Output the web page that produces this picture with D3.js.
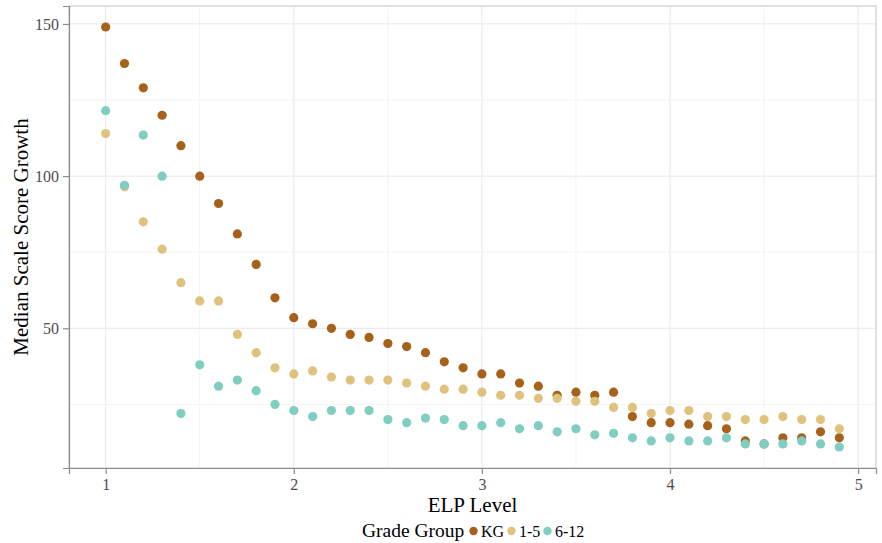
<!DOCTYPE html>
<html><head><meta charset="utf-8">
<script src="https://cdn.jsdelivr.net/npm/d3@7"></script>
<style>body{margin:0;background:#fff}svg{display:block}</style>
</head><body>
<script>
const elpLevels = [1.0,1.1,1.2,1.3,1.4,1.5,1.6,1.7,1.8,1.9,2.0,2.1,2.2,2.3,2.4,2.5,2.6,2.7,2.8,2.9,3.0,3.1,3.2,3.3,3.4,3.5,3.6,3.7,3.8,3.9,4.0,4.1,4.2,4.3,4.4,4.5,4.6,4.7,4.8,4.9];
const kgValues = [149,137,129,120,110,100,91,81,71,60,53.5,51.5,50,48,47,45,44,42,39,37,35,35,32,31,28,29,28,29,21,19,19,18.5,18,17,13,12,14,14,16,14];
const g15Values = [114,96.5,85,76,65,59,59,48,42,37,35,36,34,33,33,33,32,31,30,30,29,28,28,27,27,26,26,24,24,22,23,23,21,21,20,20,21,20,20,17];
const g612Values = [121.5,97,113.5,100,22,38,31,33,29.5,25,23,21,23,23,23,20,19,20.5,20,18,18,19,17,18,16,17,15,15.5,14,13,14,13,13,14,12,12,12,13,12,11];
const groups = ["KG","1-5","6-12"];
const groupColors = ["#a6611a","#dfc27d","#80cdc1"];
const xTicks = [1,2,3,4,5];
const yTicks = [50,100,150];
const xMinor = [1.5,2.5,3.5,4.5];
const yMinor = [25,75,125];

const W=882,H=543;
const L=69,R=876,T=6,B=468;
const svg=d3.select("body").append("svg").attr("width",W).attr("height",H);
const font="'Liberation Serif','Times New Roman',serif";

const allVals=kgValues.concat(g15Values,g612Values);
const xr=d3.extent(elpLevels), yr=d3.extent(allVals);
const xe=(xr[1]-xr[0])*0.05, ye=(yr[1]-yr[0])*0.05;
const x=d3.scaleLinear().domain([xr[0]-xe,xr[1]+xe]).range([L,R]);
const y=d3.scaleLinear().domain([yr[0]-ye,yr[1]+ye]).range([B,T]);

// grid
const grid=svg.append("g");
grid.selectAll(".vmin").data(xMinor).enter().append("line")
  .attr("x1",d=>x(d)).attr("x2",d=>x(d)).attr("y1",T).attr("y2",B).attr("stroke","#f4f4f4").attr("stroke-width",1);
grid.selectAll(".hmin").data(yMinor).enter().append("line")
  .attr("y1",d=>y(d)).attr("y2",d=>y(d)).attr("x1",L).attr("x2",R).attr("stroke","#f4f4f4").attr("stroke-width",1);
grid.selectAll(".vmaj").data(xTicks).enter().append("line")
  .attr("x1",d=>x(d)).attr("x2",d=>x(d)).attr("y1",T).attr("y2",B).attr("stroke","#ebebeb").attr("stroke-width",1.2);
grid.selectAll(".hmaj").data(yTicks).enter().append("line")
  .attr("y1",d=>y(d)).attr("y2",d=>y(d)).attr("x1",L).attr("x2",R).attr("stroke","#ebebeb").attr("stroke-width",1.2);

// panel border
svg.append("rect").attr("x",L).attr("y",T).attr("width",R-L).attr("height",B-T)
  .attr("fill","none").attr("stroke","#cccccc").attr("stroke-width",1.2);

// axes
const xAxis=d3.axisBottom(x).tickValues(xTicks).tickSize(6).tickPadding(5).tickFormat(d3.format("d"));
const yAxis=d3.axisLeft(y).tickValues(yTicks).tickSize(6).tickPadding(4).tickFormat(d3.format("d"));
const gx=svg.append("g").attr("transform",`translate(0,${B})`).call(xAxis);
const gy=svg.append("g").attr("transform",`translate(${L},0)`).call(yAxis);
[gx,gy].forEach(g=>{
  g.select(".domain").attr("stroke","#8c8c8c").attr("stroke-width",1.2);
  g.selectAll(".tick line").attr("stroke","#8c8c8c").attr("stroke-width",1.2);
  g.selectAll(".tick text").attr("fill","#4d4d4d").style("font-family",font).style("font-size","16px");
});

// points
const series=[kgValues,g15Values,g612Values];
series.forEach((vals,i)=>{
  svg.append("g").selectAll("circle").data(elpLevels.map((e,j)=>({e,v:vals[j]}))).enter().append("circle")
    .attr("cx",d=>x(d.e)).attr("cy",d=>y(d.v)).attr("r",4.6).attr("fill",groupColors[i]);
});

// axis titles
svg.append("text").attr("x",(L+R)/2).attr("y",512).attr("text-anchor","middle")
  .style("font-family",font).style("font-size","21px").attr("fill","#000").text("ELP Level");
svg.append("text").attr("transform",`translate(28,${(T+B)/2}) rotate(-90)`).attr("text-anchor","middle")
  .style("font-family",font).style("font-size","21px").attr("fill","#000").text("Median Scale Score Growth");

// legend
const lg=svg.append("g");
lg.append("text").attr("x",362).attr("y",537).style("font-family",font).style("font-size","19.5px").text("Grade Group");
const lx=[473.5,511.5,547.5];
groups.forEach((gname,i)=>{
  lg.append("circle").attr("cx",lx[i]).attr("cy",531).attr("r",4.2).attr("fill",groupColors[i]);
  lg.append("text").attr("x",lx[i]+7.5).attr("y",537).style("font-family",font).style("font-size","16px").text(gname);
});
</script>
</body></html>
